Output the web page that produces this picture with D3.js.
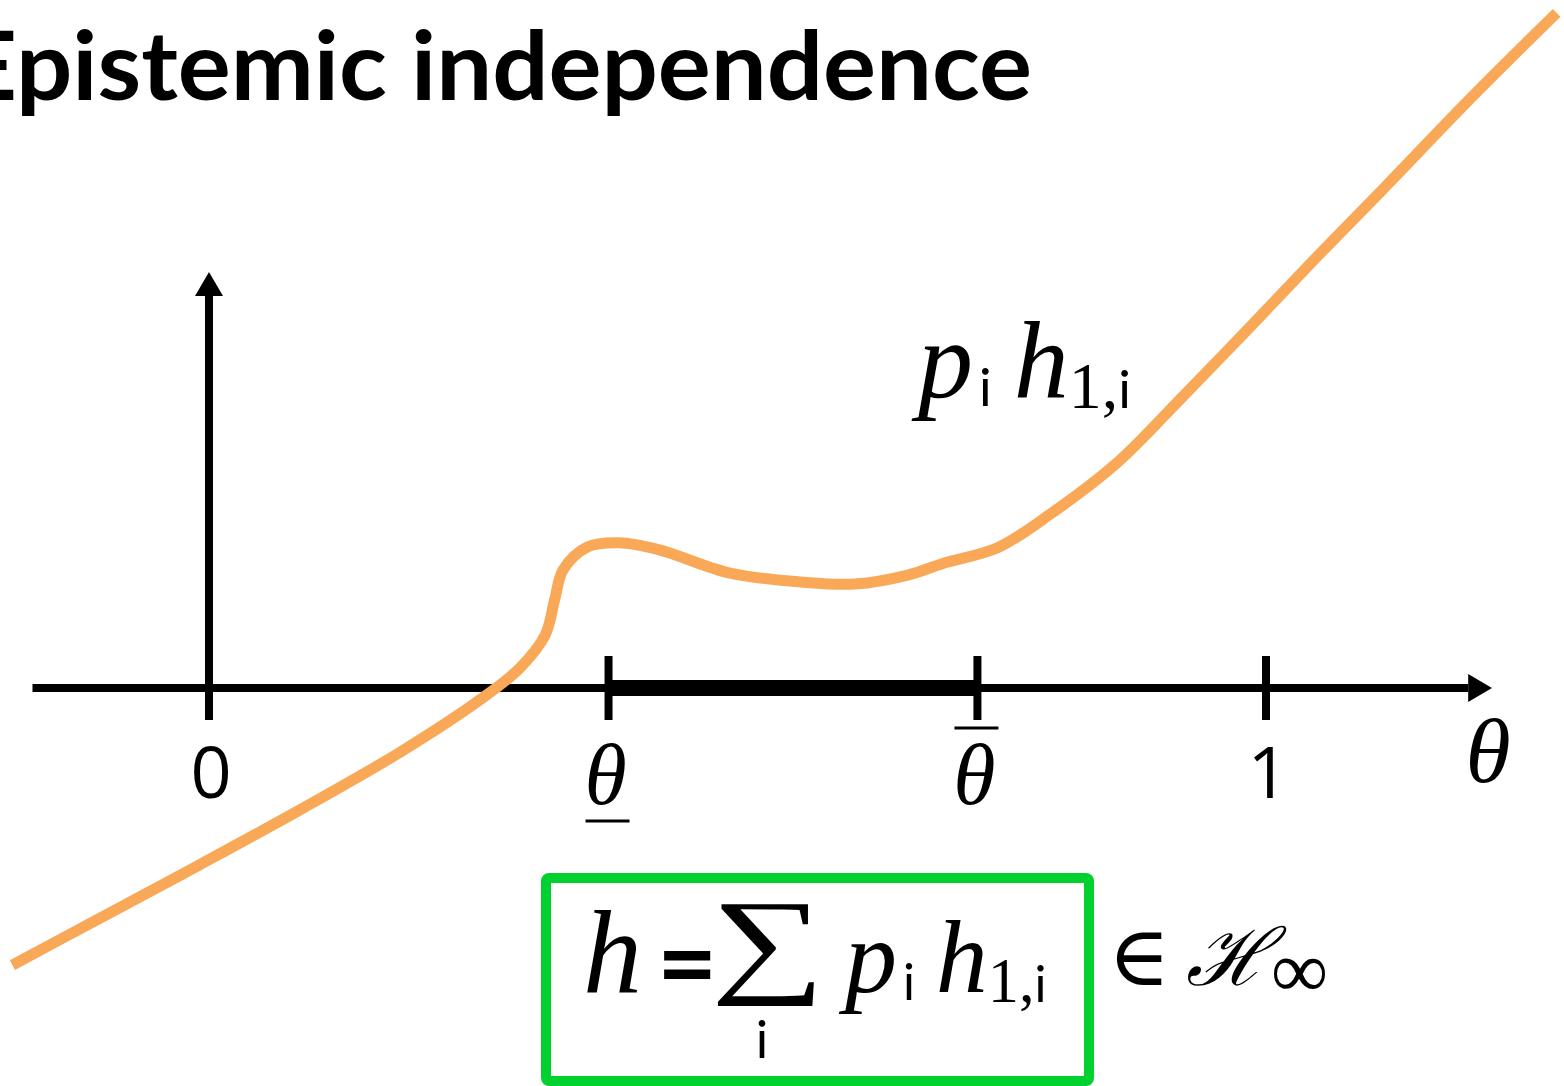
<html>
<head>
  <meta charset="utf-8">
  <script src="https://d3js.org/d3.v7.min.js"></script>
  <title>Epistemic independence</title>
  <style>
    body { margin: 0; background: #fff; overflow: hidden; }
  </style>
</head>
<body>
<svg id="chart" width="1564" height="1086"></svg>
<script>
  // curve p_i h_1,i : theta values and heights (heights in units of the y-axis length)
  const curveTheta = [-0.186, -0.103, -0.009, 0.086, 0.181, 0.256, 0.294, 0.318, 0.327, 0.335,
                      0.358, 0.388, 0.426, 0.493, 0.560, 0.611, 0.662, 0.695, 0.746, 0.796,
                      0.859, 0.921, 0.985, 1.048, 1.111, 1.193, 1.275];
  const curveValue = [-0.666, -0.553, -0.425, -0.293, -0.154, -0.029, 0.048, 0.127, 0.212, 0.284,
                      0.339, 0.349, 0.332, 0.276, 0.255, 0.250, 0.272, 0.300, 0.337, 0.418,
                      0.541, 0.700, 0.868, 1.036, 1.200, 1.416, 1.623];
  const tickValues = [0, 0.378, 0.727, 1];
  const tickLabels = ["0", "θ", "θ", "1"];
  const tickDecor  = ["none", "under", "over", "none"];
  const intervalEnds = [0.378, 0.727];
  const axisExtent = [-0.167, 1.214];

  const svg = d3.select("#chart");
  const x = d3.scaleLinear().domain([0, 1]).range([209, 1266]);
  const y = d3.scaleLinear().domain([0, 1]).range([688, 272]);

  const serif = "'Liberation Serif', 'DejaVu Serif', serif";
  const sans = "Lato, 'Open Sans', sans-serif";

  // title (cut off at the left edge, like the slide)
  svg.append("text")
      .attr("x", -40).attr("y", 100)
      .attr("textLength", 1072).attr("lengthAdjust", "spacingAndGlyphs")
      .style("font-family", sans).style("font-weight", "bold").style("font-size", "96px")
      .text("Epistemic independence");

  // arrow markers
  const defs = svg.append("defs");
  defs.append("marker").attr("id", "arrow")
      .attr("viewBox", "0 0 24 28").attr("refX", 0).attr("refY", 14)
      .attr("markerWidth", 24).attr("markerHeight", 28)
      .attr("markerUnits", "userSpaceOnUse").attr("orient", "auto")
    .append("path").attr("d", "M0,0 L24,14 L0,28 Z").attr("fill", "#000");

  // horizontal axis
  svg.append("line")
      .attr("x1", x(axisExtent[0])).attr("x2", x(axisExtent[1]) - 24)
      .attr("y1", y(0)).attr("y2", y(0))
      .attr("stroke", "#000").attr("stroke-width", 8)
      .attr("marker-end", "url(#arrow)");

  // vertical axis
  svg.append("line")
      .attr("x1", x(0)).attr("x2", x(0))
      .attr("y1", y(0) + 32).attr("y2", y(1) + 24)
      .attr("stroke", "#000").attr("stroke-width", 8)
      .attr("marker-end", "url(#arrow)");

  // thick interval [theta_low, theta_high]
  svg.append("line")
      .attr("x1", x(intervalEnds[0])).attr("x2", x(intervalEnds[1]))
      .attr("y1", y(0)).attr("y2", y(0))
      .attr("stroke", "#000").attr("stroke-width", 16);

  // ticks
  svg.selectAll("line.tick")
      .data(tickValues)
      .join("line")
      .attr("class", "tick")
      .attr("x1", d => x(d)).attr("x2", d => x(d))
      .attr("y1", y(0) - 32).attr("y2", y(0) + 32)
      .attr("stroke", "#000").attr("stroke-width", 8);

  // tick labels
  const labels = svg.selectAll("g.tlabel")
      .data(tickValues.map((v, i) => ({v: v, t: tickLabels[i], deco: tickDecor[i]})))
      .join("g")
      .attr("class", "tlabel")
      .attr("transform", d => "translate(" + x(d.v) + ",0)");

  labels.append("text")
      .attr("text-anchor", "middle")
      .attr("x", d => d.deco === "none" ? 2 : -3)
      .attr("y", d => d.deco === "none" ? 798 : 804)
      .style("font-family", d => d.deco === "none" ? "'Open Sans', sans-serif" : serif)
      .style("font-style", d => d.deco === "none" ? "normal" : "italic")
      .style("font-size", d => d.deco === "none" ? "72px" : "86px")
      .text(d => d.t);

  labels.filter(d => d.deco !== "none")
      .append("line")
      .attr("x1", -23).attr("x2", 21)
      .attr("y1", d => d.deco === "under" ? 821 : 728)
      .attr("y2", d => d.deco === "under" ? 821 : 728)
      .attr("stroke", "#000").attr("stroke-width", 3);

  // axis title theta
  svg.append("text")
      .attr("x", 1488).attr("y", 782).attr("text-anchor", "middle")
      .style("font-family", serif).style("font-style", "italic").style("font-size", "92px")
      .text("θ");

  // the curve
  const pts = curveTheta.map((t, i) => [t, curveValue[i]]);
  const line = d3.line()
      .x(d => x(d[0])).y(d => y(d[1]))
      .curve(d3.curveCatmullRom.alpha(0.5));
  svg.append("path")
      .datum(pts)
      .attr("d", line)
      .attr("fill", "none")
      .attr("stroke", "#F9A858")
      .attr("stroke-width", 11);

  // helper for "p_i h_1,i"
  function pih(g, x0, base, big) {
    const t = g.append("text").attr("x", x0).attr("y", base);
    t.append("tspan").style("font-family", serif).style("font-style", "italic")
        .style("font-size", big + "px").text("p");
    t.append("tspan").attr("dx", 6).attr("dy", 8).style("font-family", sans)
        .style("font-size", big * 0.48 + "px").text("i");
    t.append("tspan").attr("dx", big * 0.2).attr("dy", -8).style("font-family", serif).style("font-style", "italic")
        .style("font-size", big + "px").text("h");
    t.append("tspan").attr("dy", 10).style("font-family", serif)
        .style("font-size", big * 0.6 + "px").text("1,");
    t.append("tspan").style("font-family", sans)
        .style("font-size", big * 0.48 + "px").text("i");
  }

  pih(svg, 918, 398, 110);

  // green box with formula
  svg.append("rect")
      .attr("x", 546).attr("y", 878).attr("width", 543).attr("height", 203)
      .attr("rx", 3)
      .attr("fill", "none").attr("stroke", "#00D12F").attr("stroke-width", 10);

  svg.append("text").attr("x", 583).attr("y", 992)
      .style("font-family", serif).style("font-style", "italic").style("font-size", "118px")
      .text("h");
  svg.append("text").attr("x", 657).attr("y", 1000)
      .style("font-family", sans).style("font-weight", "bold").style("font-size", "104px")
      .text("=");
  svg.append("text")
      .attr("transform", "translate(711,981) scale(1.37,1)")
      .style("font-family", serif).style("font-size", "117px")
      .text("∑");
  svg.append("text").attr("x", 762).attr("y", 1058).attr("text-anchor", "middle")
      .style("font-family", sans).style("font-size", "52px")
      .text("i");
  pih(svg, 845, 992, 104);

  svg.append("text").attr("x", 1108).attr("y", 985)
      .style("font-family", serif).style("font-size", "84px")
      .text("∈");
  const hinf = svg.append("text").attr("x", 1186).attr("y", 985);
  hinf.append("tspan").style("font-family", "'DejaVu Serif', serif").style("font-style", "italic")
      .style("font-size", "80px").text("ℋ");
  hinf.append("tspan").attr("dy", 12).style("font-family", serif)
      .style("font-size", "80px").text("∞");
</script>
</body>
</html>
